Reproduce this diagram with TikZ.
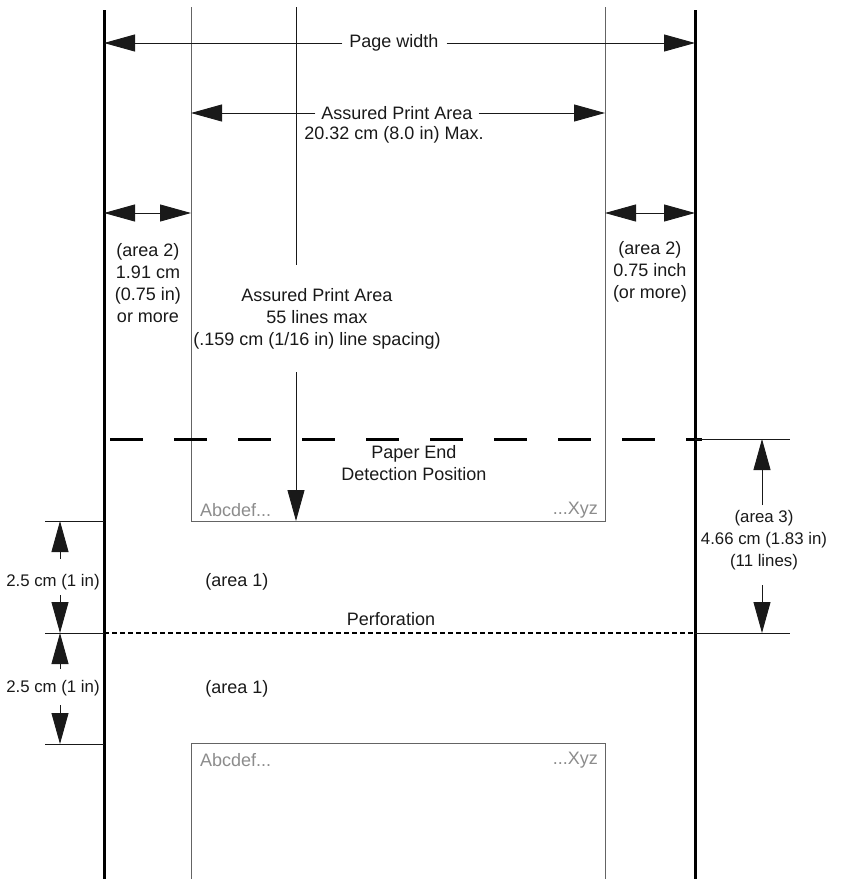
\documentclass[tikz,border=0pt]{standalone}
\usepackage{fontspec}
\setmainfont{Liberation Sans}
\usepackage{tikz}
\usetikzlibrary{
  arrows.meta,
  positioning
}
\definecolor{boxgray}{RGB}{100,100,100}
\definecolor{samplegray}{RGB}{140,140,140}
\definecolor{inkblack}{RGB}{25,25,25}

\begin{document}
\begin{tikzpicture}[x=1pt, y=-1pt,
  every node/.style={font=\fontsize{18}{22}\selectfont, align=center, inner sep=0pt, text=inkblack},
  pageedge/.style={line width=3pt, draw=black},
  boxline/.style={line width=1pt, draw=boxgray},
  thinline/.style={line width=0.9pt, draw=inkblack},
  dimarrow/.style={thinline, -{Triangle[length=31pt, width=17pt]}},
  dimboth/.style={thinline, {Triangle[length=31pt, width=17pt]}-{Triangle[length=31pt, width=17pt]}},
  narrow/.style={font=\fontsize{16.8}{22}\selectfont},
  sample/.style={text=samplegray}]
  \useasboundingbox (0,0) rectangle (843,879);

  \draw[pageedge] (104,10) -- (104,879);
  \draw[pageedge] (695,10) -- (695,879);
  \draw[boxline] (191,7) -- (191,521) -- (605,521) -- (605,7);
  \draw[boxline] (191,879) -- (191,743) -- (605,743) -- (605,879);

  \draw[line width=3pt, draw=black, dash pattern=on 33pt off 31pt] (110,439) -- (702,439);
  \draw[line width=2.8pt, draw=black, dash pattern=on 4.5pt off 3.5pt] (104,633) -- (695,633);

  \draw[thinline] (695,439) -- (790,439);
  \draw[thinline] (695,633) -- (790,633);
  \draw[thinline] (45,521) -- (104,521);
  \draw[thinline] (45,633) -- (104,633);
  \draw[thinline] (45,744) -- (104,744);

  \node (pagew) at (394,43) {Page width};
  \coordinate (pwL) at (104,43);
  \coordinate (pwR) at (695,43);
  \draw[dimarrow] ([xshift=-7pt]pagew.west) -- (pwL);
  \draw[dimarrow] ([xshift=8pt]pagew.east) -- (pwR);

  \node (apa) at (397,113) {Assured Print Area};
  \node (apamax) at (394,135) {20.32 cm (8.0 in) Max.};
  \coordinate (apaL) at (191,113);
  \coordinate (apaR) at (605,113);
  \draw[dimarrow] ([xshift=-6pt]apa.west) -- (apaL);
  \draw[dimarrow] ([xshift=6pt]apa.east) -- (apaR);

  \coordinate (mgLa) at (104,213);
  \coordinate (mgLb) at (191,213);
  \coordinate (mgRa) at (605,213);
  \coordinate (mgRb) at (695,213);
  \draw[dimboth] (mgLa) -- (mgLb);
  \draw[dimboth] (mgRa) -- (mgRb);

  \node (area2l) at (148,283) {(area 2)\\1.91 cm\\(0.75 in)\\or more};
  \node (area2r) at (650,272) {(area 2)\\0.75 inch\\(or more)};
  \node (lines) at (317,319) {Assured Print Area\\55 lines max\\(.159 cm (1/16 in) line spacing)};

  \coordinate (cvtop) at (296,7);
  \coordinate (cvbrk) at (296,265);
  \coordinate (cvres) at (296,372);
  \coordinate (cvend) at (296,521);
  \draw[thinline] (cvtop) -- (cvbrk);
  \draw[dimarrow] (cvres) -- (cvend);

  \node (paperend) at (414,463) {Paper End\\Detection Position};

  \node[sample, anchor=west] (abc1) at (200,510) {Abcdef...};
  \node[sample, anchor=east] (xyz1) at (598,510) {...Xyz};
  \node[sample, anchor=west] (abc2) at (200,760) {Abcdef...};
  \node[sample, anchor=east] (xyz2) at (598,760) {...Xyz};

  \node[narrow] (area3) at (764,540) {(area 3)\\4.66 cm (1.83 in)\\(11 lines)};
  \coordinate (a3up) at (762,505);
  \coordinate (a3top) at (762,439);
  \coordinate (a3dn) at (762,585);
  \coordinate (a3bot) at (762,633);
  \draw[dimarrow] (a3up) -- (a3top);
  \draw[dimarrow] (a3dn) -- (a3bot);

  \node (area1a) at (237,582) {(area 1)};
  \node (area1b) at (237,689) {(area 1)};
  \node (perf) at (391,619) {Perforation};

  \node[narrow] (topcm) at (53,582) {2.5 cm (1 in)};
  \node[narrow] (botcm) at (53,688) {2.5 cm (1 in)};
  \coordinate (d1t) at (60,521);
  \coordinate (d1a) at (60,559);
  \coordinate (d1b) at (60,595);
  \coordinate (d1e) at (60,633);
  \coordinate (d2a) at (60,669);
  \coordinate (d2b) at (60,705);
  \coordinate (d2e) at (60,744);
  \draw[dimarrow] (d1a) -- (d1t);
  \draw[dimarrow] (d1b) -- (d1e);
  \draw[dimarrow] (d2a) -- (d1e);
  \draw[dimarrow] (d2b) -- (d2e);
\end{tikzpicture}
\end{document}
